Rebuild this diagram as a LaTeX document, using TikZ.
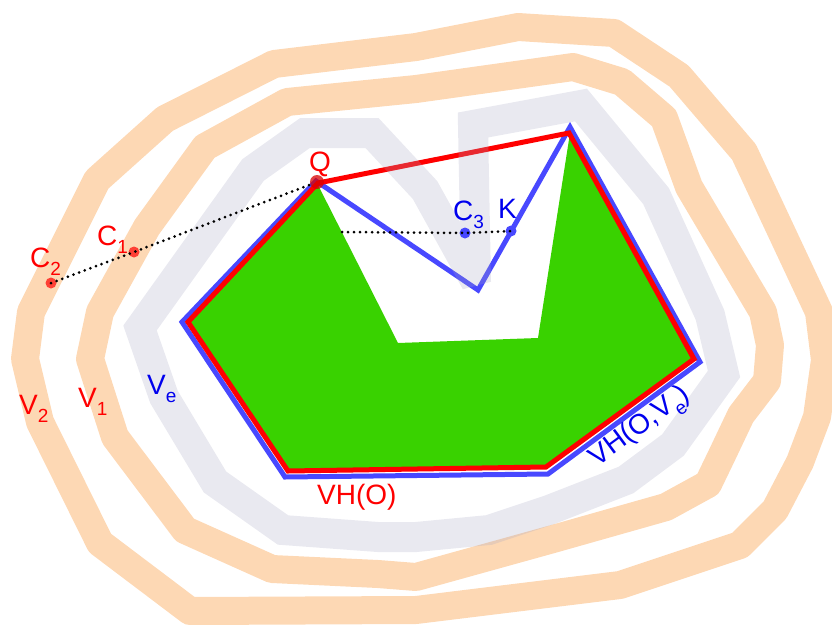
\documentclass[tikz,border=0pt]{standalone}
\usepackage{fontspec}
\setmainfont{Liberation Sans}
\usepackage{xcolor}
\usepackage{tikz}
\definecolor{bandO}{HTML}{FDD8B4}
\definecolor{bandV}{HTML}{A7A7C3}
\definecolor{objG}{HTML}{39D200}
\definecolor{hullR}{HTML}{FF0000}
\definecolor{hullB}{HTML}{4848FF}
\definecolor{txtB}{HTML}{0000EE}
\newcommand\sbs[1]{\raisebox{-0.32em}{\fontsize{19}{19}\selectfont #1}}

\begin{document}
\begin{tikzpicture}[x=1pt,y=-1pt,
  lbl/.style={inner sep=0pt, anchor=base west, font=\fontsize{28}{28}\selectfont},
  band/.style={bandO, line width=28pt, line join=round},
  pt/.style={circle, inner sep=0pt, minimum size=11pt},
  dotline/.style={black, line width=3pt, line cap=round, dash pattern=on 0pt off 6pt}]
  \useasboundingbox (0,0) rectangle (832,624);
  % outer bands V2, V1
  \draw[band] (31,312) -- (97,180) -- (165,119) -- (274,64) -- (416,47) -- (518,27)
     -- (614,33) -- (679,76) -- (744,152) -- (819,312) -- (825,360) -- (817,417)
     -- (800,462) -- (775,510) -- (740,545) -- (620,585) -- (416,610) -- (190,611)
     -- (100,543) -- (40,422) -- (25,359) -- cycle;
  \draw[band] (100,312) -- (147,227) -- (205,147) -- (287,102) -- (416,89) -- (573,67)
     -- (622,82) -- (664,118) -- (689,187) -- (763,312) -- (770,345) -- (767,381)
     -- (741,415) -- (722,455) -- (708,484) -- (666,507) -- (553,539) -- (416,577)
     -- (378,574) -- (272,569) -- (185,530) -- (115,437) -- (90,359) -- cycle;
  % object O
  \fill[objG] (317,183) -- (398,343) -- (538,338) -- (570,133) -- (694,360)
     -- (546,466) -- (288,471) -- (187,322) -- cycle;
  % VH(O,Ve) and VH(O)
  \draw[hullB, line width=5pt] (316,181) -- (478,290) -- (570,127) -- (700,362)
     -- (548,474) -- (285,477) -- (182,322) -- cycle;
  \draw[hullR, line width=5pt] (318,183) -- (569,133) -- (694,359) -- (546,467)
     -- (288,471) -- (188,322) -- cycle;
  % band Ve
  \draw[bandV, draw opacity=.25, line width=30pt, miter limit=2]
     (140,328) -- (253,170) -- (305,133) -- (372,133) -- (425,190) -- (476,282)
     -- (473,125) -- (581,105) -- (656,196) -- (710,315) -- (724,374) -- (673,445)
     -- (626,480) -- (549,510) -- (489,530) -- (416,537) -- (378,537) -- (283,530)
     -- (215,482) -- (164,397) -- cycle;
  % points
  \node[pt, minimum size=14pt, fill=hullR!85!black, fill opacity=.75] (Q) at (317,182) {};
  \node[pt, fill=hullR, fill opacity=.7] (C1) at (134,252) {};
  \node[pt, fill=hullR, fill opacity=.7] (C2) at (51,283) {};
  \node[pt, fill=hullB] (C3) at (465,233) {};
  \node[pt, fill=hullB] (K) at (511,231) {};
  \coordinate (E) at (342,232);
  \draw[dotline] (C2.center) -- (C1.center) -- (Q);
  \draw[dotline] (E) -- (C3.center) -- (K.center);
  % labels
  \node[lbl, hullR] (labQ) at (309,171) {Q};
  \node[lbl, hullR] (labC1) at (97,245) {C\sbs{1}};
  \node[lbl, hullR] (labC2) at (30,267) {C\sbs{2}};
  \node[lbl, txtB] (labC3) at (453,220) {C\sbs{3}};
  \node[lbl, txtB] (labK) at (498,218) {K};
  \node[lbl, hullR] (labV2) at (19,414) {V\sbs{2}};
  \node[lbl, hullR] (labV1) at (78,407) {V\sbs{1}};
  \node[lbl, txtB] (labVe) at (147,394) {V\sbs{e}};
  \node[lbl, hullR] (labVH) at (317,504) {VH(O)};
  \node[lbl, txtB, anchor=center, rotate=36.5] (labVHe) at (641,428) {VH(O,V\sbs{e})};
\end{tikzpicture}
\end{document}
